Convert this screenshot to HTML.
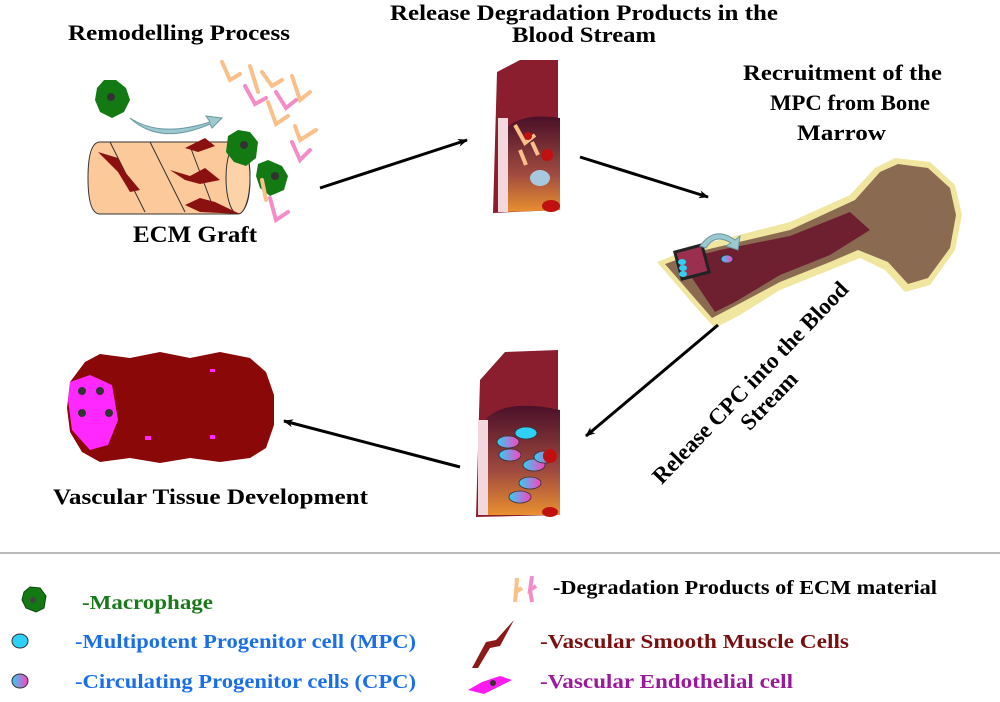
<!DOCTYPE html>
<html><head><meta charset="utf-8"><style>
html,body{margin:0;padding:0;background:#fff}
svg{display:block}
text{font-family:"Liberation Serif",serif;font-weight:bold}
</style></head><body>
<svg width="1000" height="702" viewBox="0 0 1000 702" xmlns="http://www.w3.org/2000/svg">
<defs>
<marker id="ah" markerWidth="10" markerHeight="8" refX="9" refY="4" orient="auto" markerUnits="userSpaceOnUse">
<path d="M0,0 L10,4 L0,8 L3,4 Z" fill="#000"/></marker>
<linearGradient id="cpc" x1="0" x2="1"><stop offset="0" stop-color="#2fd0f5"/><stop offset="1" stop-color="#ff40c0"/></linearGradient>
<linearGradient id="lum" x1="0" y1="0" x2="0" y2="1"><stop offset="0" stop-color="#4a1028"/><stop offset="0.6" stop-color="#a04a40"/><stop offset="1" stop-color="#e89030"/></linearGradient>
</defs>

<text x="68" y="40" font-size="22" textLength="222" lengthAdjust="spacingAndGlyphs">Remodelling Process</text>
<text x="390" y="20" font-size="22" textLength="388" lengthAdjust="spacingAndGlyphs">Release Degradation Products in the</text>
<text x="512" y="42" font-size="22" textLength="144" lengthAdjust="spacingAndGlyphs">Blood Stream</text>
<text x="743" y="80" font-size="22" textLength="199" lengthAdjust="spacingAndGlyphs">Recruitment of the</text>
<text x="770" y="110" font-size="22" textLength="160" lengthAdjust="spacingAndGlyphs">MPC from Bone</text>
<text x="797" y="140" font-size="22" textLength="89" lengthAdjust="spacingAndGlyphs">Marrow</text>
<text x="133" y="242" font-size="23" textLength="124" lengthAdjust="spacingAndGlyphs">ECM Graft</text>
<text x="53" y="504" font-size="22" textLength="315" lengthAdjust="spacingAndGlyphs">Vascular Tissue Development</text>
<g transform="translate(760,392) rotate(-46)">
<text x="0" y="-6" font-size="23" text-anchor="middle">Release CPC into the Blood</text>
<text x="0" y="20" font-size="23" text-anchor="middle">Stream</text>
</g>

<g>
<path d="M100,142 L235,142 Q250,142 250,178 Q250,214 235,214 L100,214 Q88,214 88,178 Q88,142 100,142 Z" fill="#fbc99a" stroke="#333" stroke-width="1"/>
<ellipse cx="238" cy="178" rx="12" ry="36" fill="#fcd3a8" stroke="#333" stroke-width="1"/>
<path d="M110,142 L145,212 M150,142 L185,212 M190,146 L215,212" stroke="#333" fill="none"/>
<path d="M98,152 L118,158 L125,172 L140,190 L130,192 L118,172 Z M170,170 L190,176 L205,168 L220,180 L200,184 L185,180 Z M185,205 L200,198 L215,202 L240,214 L200,212 Z M185,148 L205,138 L215,146 L198,152 Z" fill="#8b1010"/>
</g>
<path d="M130,118 Q160,138 210,122 L206,116 L222,118 L212,128 L210,124 Q160,146 130,118 Z" fill="#9cc8d0" stroke="#6a9aa0"/>
<g fill="#137a13">
<path d="M97,88 L104,80 L116,80 L126,88 L130,100 L124,112 L112,118 L100,112 L95,100 Z"/>
<path d="M228,136 L238,130 L250,132 L258,142 L256,158 L246,166 L234,162 L226,152 Z"/>
<path d="M258,164 L268,160 L282,166 L288,176 L284,190 L270,196 L260,188 L256,176 Z"/>
</g>
<g fill="#333"><circle cx="111" cy="97" r="4"/><circle cx="244" cy="145" r="4"/><circle cx="275" cy="176" r="4"/></g>
<g fill="none" stroke-width="4" stroke-linecap="round">
<path d="M222,62 L230,80 L240,74 M250,66 L258,92 M262,72 L272,86 L282,80 M292,76 L300,100 L310,92 M268,102 L276,124 L288,116 M295,126 L300,140 L316,130 M262,180 L266,200" stroke="#fbbf8a"/>
<path d="M245,86 L255,104 L266,98 M276,92 L286,108 L296,100 M292,142 L300,160 L310,150 M270,198 L276,220 L288,212" stroke="#f48cc8"/>
</g>

<g>
<path d="M497,72 L520,60 L558,60 L558,210 L493,213 Z" fill="#8a1e2e"/>
<path d="M505,130 Q520,112 560,118 L560,210 L505,212 Z" fill="url(#lum)"/>
<path d="M498,118 L508,118 L508,212 L498,212 Z" fill="#f2d8dc"/>
<path d="M515,125 L525,143 L535,135 M520,150 L526,165 M532,142 L538,155" stroke="#fbbf8a" stroke-width="4" fill="none"/>
<ellipse cx="540" cy="178" rx="10" ry="8" fill="#a8c8e0"/>
<circle cx="547" cy="155" r="6" fill="#c01010"/><circle cx="528" cy="136" r="4" fill="#c01010"/>
<ellipse cx="551" cy="206" rx="9" ry="6" fill="#c01010"/>
</g>
<g>
<path d="M480,380 L505,352 L558,350 L558,515 L476,517 Z" fill="#8a1e2e"/>
<path d="M485,420 Q505,398 560,410 L560,515 L485,515 Z" fill="url(#lum)"/>
<path d="M478,420 L488,420 L488,515 L478,515 Z" fill="#f2d8dc"/>
<g stroke="#333" stroke-width="0.8">
<ellipse cx="526" cy="433" rx="11" ry="6" fill="#2fd0f5"/>
<ellipse cx="508" cy="442" rx="11" ry="6" fill="url(#cpc)"/>
<ellipse cx="510" cy="455" rx="11" ry="6" fill="url(#cpc)"/>
<ellipse cx="534" cy="465" rx="11" ry="6" fill="url(#cpc)"/>
<ellipse cx="545" cy="457" rx="11" ry="6" fill="url(#cpc)"/>
<ellipse cx="530" cy="483" rx="11" ry="6" fill="url(#cpc)"/>
<ellipse cx="520" cy="497" rx="11" ry="6" fill="url(#cpc)"/>
</g>
<circle cx="550" cy="456" r="7" fill="#c01010"/><ellipse cx="550" cy="512" rx="8" ry="5" fill="#c01010"/>
</g>

<g>
<path d="M657,262 L700,245 L790,222 L850,195 L875,168 L895,158 L930,162 L955,185 L962,215 L955,250 L930,285 L905,292 L885,270 L860,258 L830,270 L780,290 L740,315 L715,328 L700,312 Z" fill="#f0e6a0"/>
<path d="M665,264 L705,250 L790,230 L855,200 L880,172 L898,164 L928,168 L950,188 L956,215 L950,248 L928,278 L908,284 L888,262 L858,250 L830,262 L780,282 L735,306 L712,318 Z" fill="#8b6a52"/>
<path d="M680,260 L720,250 L790,236 L850,212 L870,230 L830,255 L780,275 L735,302 L715,312 Z" fill="#6e2030"/>
<rect x="678" y="248" width="28" height="28" fill="#9b2f50" stroke="#222" stroke-width="3" transform="rotate(-15 692 262)"/>
<ellipse cx="682" cy="262" rx="4" ry="3" fill="#2fd0f5"/><ellipse cx="683" cy="268" rx="4" ry="3" fill="#2fd0f5"/><ellipse cx="683" cy="274" rx="4" ry="3" fill="#2fd0f5"/>
<ellipse cx="727" cy="259" rx="6" ry="4" fill="url(#cpc)" stroke="#333" stroke-width="0.8"/>
<path d="M700,246 Q715,225 735,240 L740,236 L738,250 L726,246 L731,243 Q715,233 706,248 Z" fill="#9cc8d0" stroke="#6a9aa0"/>
</g>

<path d="M85,362 L100,354 L130,358 L160,352 L190,358 L220,352 L250,358 L266,372 L274,395 L274,425 L266,448 L250,458 L220,462 L190,458 L160,463 L130,458 L100,462 L82,452 L70,432 L67,408 L70,382 Z" fill="#8b0808"/>
<path d="M70,382 L90,375 L112,385 L118,420 L108,445 L90,450 L72,430 L68,400 Z" fill="#ff28ff"/>
<g fill="#333"><circle cx="82" cy="391" r="4"/><circle cx="100" cy="391" r="4"/><circle cx="82" cy="413" r="4"/><circle cx="109" cy="413" r="4"/></g>
<g fill="#ff28ff"><rect x="210" y="369" width="5" height="3"/><rect x="145" y="436" width="6" height="4"/><rect x="210" y="435" width="5" height="4"/></g>

<g stroke="#000" stroke-width="3" marker-end="url(#ah)">
<line x1="320" y1="188" x2="467" y2="140"/>
<line x1="580" y1="157" x2="708" y2="197"/>
<line x1="718" y1="325" x2="586" y2="436"/>
<line x1="460" y1="467" x2="284" y2="421"/>
</g>

<line x1="0" y1="553" x2="1000" y2="553" stroke="#777" stroke-width="1"/>

<path d="M24,592 L30,587 L40,588 L46,596 L44,608 L36,612 L26,608 L22,600 Z" fill="#137a13" stroke="#0a4a0a"/>
<circle cx="33" cy="600" r="3" fill="#444"/>
<text x="82" y="609" font-size="20" fill="#1a7a1a" textLength="131" lengthAdjust="spacingAndGlyphs">-Macrophage</text>
<ellipse cx="20" cy="641" rx="8" ry="7" fill="#2fd0f5" stroke="#333"/>
<text x="75" y="648" font-size="20" fill="#1a6fe8" textLength="341" lengthAdjust="spacingAndGlyphs">-Multipotent Progenitor cell (MPC)</text>
<ellipse cx="20" cy="681" rx="8" ry="7" fill="url(#cpc)" stroke="#333"/>
<text x="75" y="688" font-size="20" fill="#1a6fe8" textLength="341" lengthAdjust="spacingAndGlyphs">-Circulating Progenitor cells (CPC)</text>
<path d="M517,578 L516,592 L522,588 M516,592 L515,602" stroke="#fbbf8a" stroke-width="4" fill="none"/>
<path d="M532,576 L530,590 L536,586 M530,590 L532,602" stroke="#f48cc8" stroke-width="4" fill="none"/>
<text x="553" y="594" font-size="20" fill="#000" textLength="384" lengthAdjust="spacingAndGlyphs">-Degradation Products of ECM material</text>
<path d="M514,620 L496,640 L486,642 L472,668 L478,668 L490,648 L500,646 Z" fill="#8b1a1a"/>
<text x="540" y="648" font-size="20" fill="#7a0f0f" textLength="309" lengthAdjust="spacingAndGlyphs">-Vascular  Smooth Muscle Cells</text>
<path d="M468,690 L482,682 L500,676 L512,680 L500,686 L484,694 Z" fill="#ff1aef"/>
<circle cx="493" cy="683" r="3" fill="#333"/>
<text x="540" y="688" font-size="20" fill="#9a1a9a" textLength="253" lengthAdjust="spacingAndGlyphs">-Vascular  Endothelial cell</text>
</svg>
</body></html>
